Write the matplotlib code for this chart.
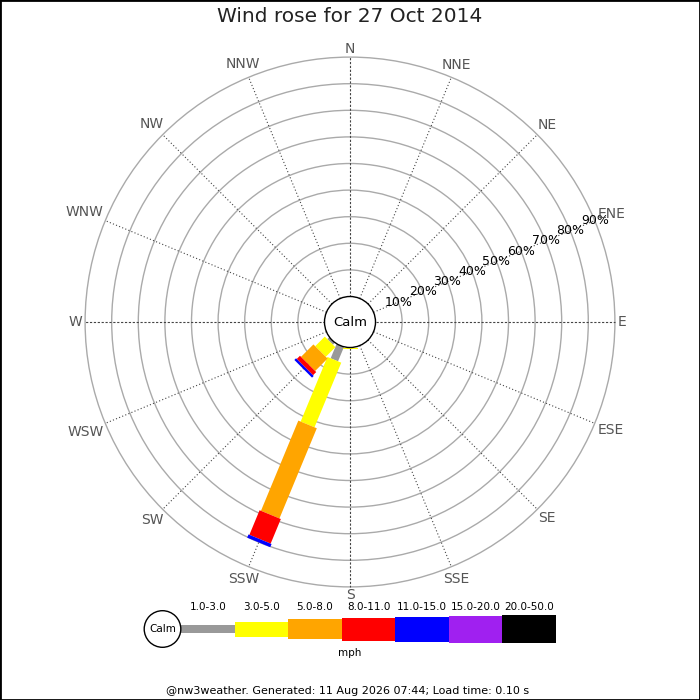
import matplotlib
matplotlib.use('Agg')
import matplotlib.pyplot as plt
from matplotlib.patches import Circle, Polygon, Rectangle
import numpy as np

# ---------------- data ----------------
title = 'Wind rose for 27 Oct 2014'
footer = '@nw3weather. Generated: 11 Aug 2026 07:44; Load time: 0.10 s'
calm_label = 'Calm'
unit_label = 'mph'
directions = ['N', 'NNE', 'NE', 'ENE', 'E', 'ESE', 'SE', 'SSE',
              'S', 'SSW', 'SW', 'WSW', 'W', 'WNW', 'NW', 'NNW']
speed_bins = ['1.0-3.0', '3.0-5.0', '5.0-8.0', '8.0-11.0',
              '11.0-15.0', '15.0-20.0', '20.0-50.0']
bin_colors = ['#999999', '#ffff00', '#ffa500', '#ff0000',
              '#0000ff', '#a020f0', '#000000']
#            N  NNE NE ENE E ESE SE SSE  S    SSW   SW   WSW W WNW NW NNW
freq_1_3   = [0, 0, 0, 0, 0, 0, 0, 0, 0.0,  5.8, 1.0, 0, 0, 0, 0, 0]
freq_3_5   = [0, 0, 0, 0, 0, 0, 0, 0, 0.7, 26.3, 5.1, 0, 0, 0, 0, 0]
freq_5_8   = [0, 0, 0, 0, 0, 0, 0, 0, 0.0, 36.7, 6.6, 0, 0, 0, 0, 0]
freq_8_11  = [0, 0, 0, 0, 0, 0, 0, 0, 0.0, 10.0, 1.7, 0, 0, 0, 0, 0]
freq_11_15 = [0, 0, 0, 0, 0, 0, 0, 0, 0.0,  1.3, 0.9, 0, 0, 0, 0, 0]
freq_15_20 = [0, 0, 0, 0, 0, 0, 0, 0, 0.0,  0.0, 0.0, 0, 0, 0, 0, 0]
freq_20_50 = [0, 0, 0, 0, 0, 0, 0, 0, 0.0,  0.0, 0.0, 0, 0, 0, 0, 0]
ring_pcts = [10, 20, 30, 40, 50, 60, 70, 80, 90]

freqs = np.array([freq_1_3, freq_3_5, freq_5_8, freq_8_11,
                  freq_11_15, freq_15_20, freq_20_50], dtype=float)

# ---------------- styles ----------------
PX = 2.66            # pixels per percent
CALM_R = 25.5 / PX   # calm circle radius, in percent units
CX, CY = 350, 322    # rose centre in pixels (from top-left)
BAR_W_PX = [8, 15, 20, 23, 25, 27, 28]

fig = plt.figure(figsize=(7, 7), dpi=100)
fig.patch.set_facecolor('white')

ax = fig.add_axes([0, 0, 1, 1])
ax.set_xlim(-CX / PX, (700 - CX) / PX)
ax.set_ylim(-(700 - CY) / PX, CY / PX)
ax.axis('off')

angles = np.deg2rad(np.arange(len(directions)) * 360.0 / len(directions))
r_max = CALM_R + max(ring_pcts)

# rings
for p in ring_pcts:
    ax.add_patch(Circle((0, 0), CALM_R + p, fill=False, edgecolor='#aaaaaa',
                        lw=1.0, zorder=1))
# spokes
for i, a in enumerate(angles):
    s, c = np.sin(a), np.cos(a)
    ls = (0, (2, 1.5)) if i % 4 == 0 else (0, (1, 2))
    ax.plot([CALM_R * s, r_max * s], [CALM_R * c, r_max * c],
            color='#444444', lw=0.8, linestyle=ls, zorder=2)

# bars
cum = np.zeros(len(directions))
for k in range(len(speed_bins)):
    half_w = BAR_W_PX[k] / PX / 2
    for i, a in enumerate(angles):
        v = freqs[k, i]
        if v <= 0:
            continue
        r0 = CALM_R + cum[i]
        r1 = r0 + v
        u = np.array([np.sin(a), np.cos(a)])
        pv = np.array([np.cos(a), -np.sin(a)])
        pts = [r0 * u + half_w * pv, r1 * u + half_w * pv,
               r1 * u - half_w * pv, r0 * u - half_w * pv]
        ax.add_patch(Polygon(pts, closed=True, facecolor=bin_colors[k],
                             edgecolor='none', zorder=3))
    cum += freqs[k]

# calm circle
ax.add_patch(Circle((0, 0), CALM_R, facecolor='white', edgecolor='black',
                    lw=1.0, zorder=5))
ax.text(0, 0, calm_label, ha='center', va='center', fontsize=9.5,
        color='black', zorder=6)

# percentage labels along ENE
lab_a = np.deg2rad(67.5)
for p in ring_pcts:
    r = CALM_R + p
    ax.text(r * np.sin(lab_a), r * np.cos(lab_a), f'{p}%', ha='center',
            va='center', fontsize=9, color='black', zorder=6)

# compass labels
ctexts = []
for name, a in zip(directions, angles):
    t = ax.text(0, 0, name, ha='center', va='center', fontsize=10,
                color='#555555', zorder=6)
    ctexts.append((t, a))

# title / footer
fig.text(0.5, 1 - 17 / 700, title, ha='center', va='center', fontsize=14.5,
         color='#222222')
fig.text(348 / 700, 1 - 691 / 700, footer, ha='center', va='center',
         fontsize=8, color='black')
fig.text(350 / 700, 1 - 653.5 / 700, unit_label, ha='center', va='center',
         fontsize=7.5, color='black')

# legend
LX0 = 181.0            # left of first bar (px)
SEG_W = (556 - 181) / len(speed_bins)
LY = 629.0
axl = fig.add_axes([140 / 700, 1 - (LY + 30) / 700, 420 / 700, 60 / 700])
axl.set_xlim(140 - LX0, 560 - LX0)
axl.set_ylim(-30, 30)
axl.axis('off')
xs = np.arange(len(speed_bins)) * SEG_W
hs = np.array(BAR_W_PX, dtype=float)
axl.bar(xs, hs, bottom=-hs / 2, width=SEG_W, align='edge',
        color=bin_colors, edgecolor='none')
for x, lab in zip(xs, speed_bins):
    axl.text(x + SEG_W / 2, 22.3, lab, ha='center', va='center',
             fontsize=7.5, color='black')
axl.add_patch(Circle((162.5 - LX0, 0), 18.3, facecolor='white',
                     edgecolor='black', lw=1.0, zorder=4))
axl.text(162.5 - LX0, 0, calm_label, ha='center', va='center', fontsize=7.5,
         zorder=5)

# frame
fig.add_artist(Rectangle((0, 0), 1, 1, transform=fig.transFigure,
                         fill=False, edgecolor='black', lw=2))

# position compass labels just outside the outer ring
fig.canvas.draw()
rend = fig.canvas.get_renderer()
for t, a in ctexts:
    bb = t.get_window_extent(rend)
    off_px = 268 + (bb.width / 2) * abs(np.sin(a)) + 5 * abs(np.cos(a))
    r = off_px / PX
    t.set_position((r * np.sin(a), r * np.cos(a)))

fig.savefig('out.png', dpi=100, facecolor='white')
